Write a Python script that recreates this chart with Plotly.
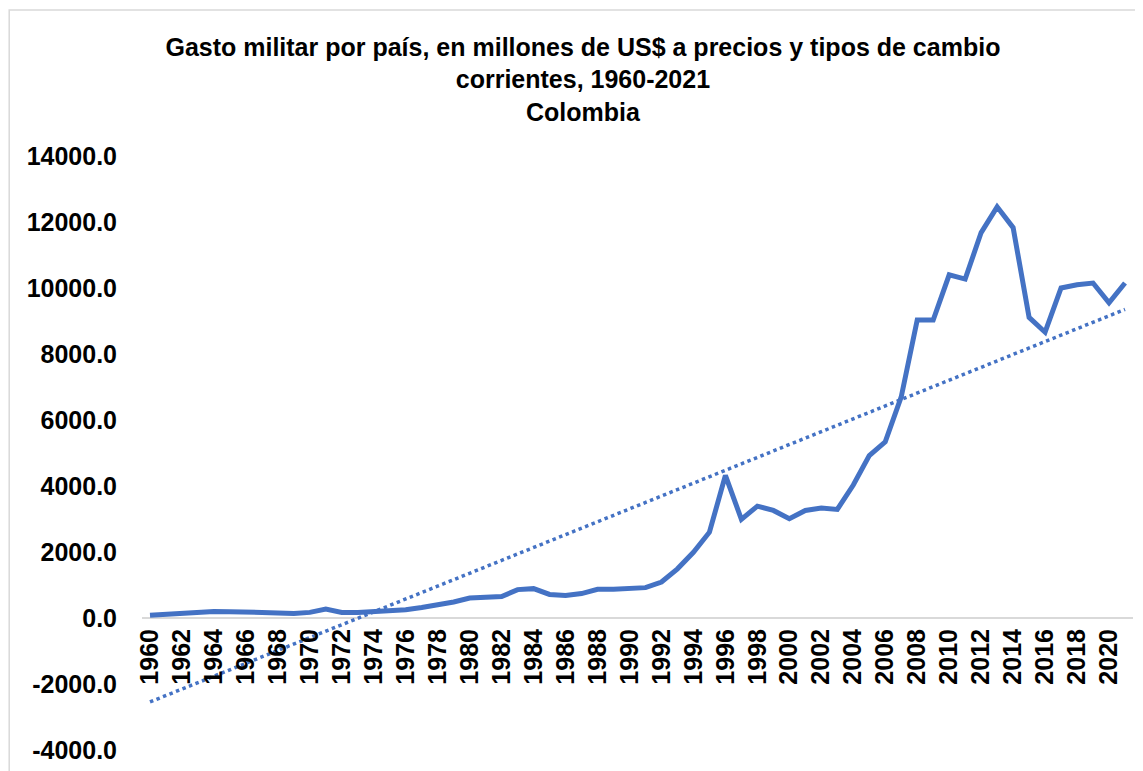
import numpy as np
import plotly.graph_objects as go

# Gasto militar de Colombia, millones de US$ corrientes
years = list(range(1960, 2022))
gasto = [80, 110, 170, 190, 200, 190, 185, 190, 155, 140,
         170, 270, 170, 170, 200, 240, 250, 320, 400, 485,
         605, 630, 650, 860, 890, 715, 680, 740, 870, 870,
         900, 920, 1090, 1490, 1990, 2600, 4320, 2990, 3390, 3260,
         3010, 3260, 3330, 3290, 4030, 4920, 5340, 6700, 9030, 9030,
         10400, 10270, 11680, 12460, 11830, 9110, 8660, 10000, 10100, 10150,
         9550, 10150]
y_ticks = [-4000, -2000, 0, 2000, 4000, 6000, 8000, 10000, 12000, 14000]

# linea de tendencia lineal (como en Excel)
idx = np.arange(1, len(years) + 1)
m, b = np.polyfit(idx, gasto, 1)
trend = m * idx + b

blue = "#4472C4"
font = "Liberation Sans, Arial, sans-serif"

fig = go.Figure()
fig.add_trace(go.Scatter(x=years, y=gasto, mode="lines",
                         line=dict(color=blue, width=5), name="Colombia"))
fig.add_trace(go.Scatter(x=years, y=trend, mode="lines",
                         line=dict(color=blue, width=3.5, dash="dot"), name="Lineal"))

ymin, ymax = -4000, 14000
fig.update_layout(
    width=1143, height=771,
    margin=dict(l=134, r=18, t=148, b=29, autoexpand=False),
    paper_bgcolor="white", plot_bgcolor="white",
    showlegend=False,
    font=dict(family=font, color="black"),
    title=dict(text="<b>Gasto militar por país, en millones de US$ a precios y tipos de cambio<br>corrientes, 1960-2021<br>Colombia</b>",
               x=0.503, xanchor="center", xref="container",
               y=0.938, yanchor="top",
               font=dict(size=25, family=font)),
    xaxis=dict(range=[1959.5, 2021.5], tickmode="array",
               tickvals=years[::2], ticktext=[f"<b>{y}</b>" for y in years[::2]],
               tickangle=-90, tickfont=dict(size=25),
               showgrid=False, showline=False, ticks="", automargin=False,
               ticklabelstandoff=5,
               anchor="free", position=(0 - ymin) / (ymax - ymin)),
    yaxis=dict(range=[ymin, ymax], tickvals=y_ticks,
               ticktext=[f"<b>{v:.1f}</b>" for v in y_ticks],
               tickfont=dict(size=25), showgrid=False, showline=False,
               zeroline=True, zerolinecolor="#D9D9D9", zerolinewidth=1.5,
               ticklabelstandoff=24, automargin=False),
    shapes=[dict(type="rect", xref="paper", yref="paper",
                 x0=-0.134, x1=1.05, y0=-0.2, y1=1.2458,
                 line=dict(color="#D9D9D9", width=1.5), layer="below")],
)

fig.write_html("out.html")
